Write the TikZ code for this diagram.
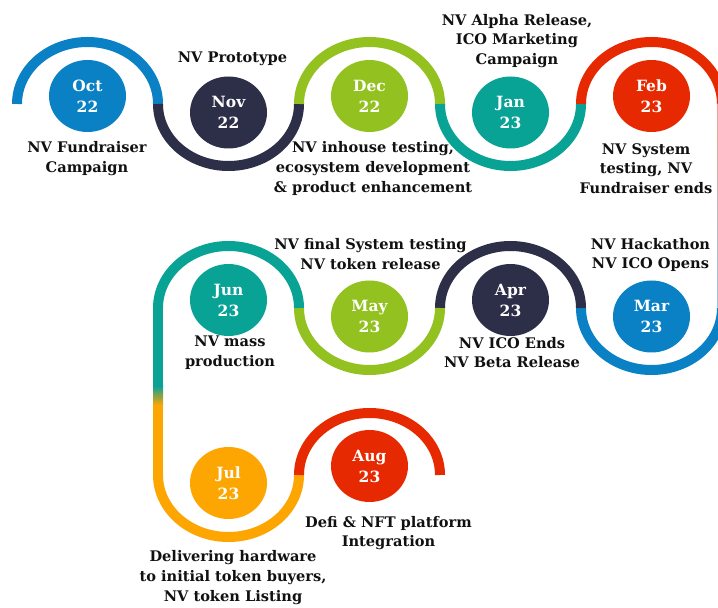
\documentclass[tikz,border=0pt]{standalone}
\usepackage{fontspec}
\setmainfont{DejaVu Serif}
\usetikzlibrary{shapes.geometric}

\definecolor{cblue}{RGB}{10,128,197}
\definecolor{cnavy}{RGB}{45,46,71}
\definecolor{cgreen}{RGB}{146,193,32}
\definecolor{cteal}{RGB}{9,163,150}
\definecolor{cred}{RGB}{230,41,0}
\definecolor{corange}{RGB}{253,165,0}
\definecolor{ink}{RGB}{17,17,17}

\def\trkrx{70.5}
\def\trkry{62}

\begin{document}
\begin{tikzpicture}[x=1pt,y=1pt,
  track/.style={line width=10pt},
  month/.style={ellipse, minimum width=77pt, minimum height=72pt, inner sep=0pt,
    text=white, align=center, font=\bfseries\fontsize{15.5}{21}\selectfont},
  caption/.style={align=center, inner sep=0pt, text=ink,
    font=\bfseries\fontsize{14.6}{19.7}\selectfont},
  up/.style={start angle=180, end angle=0, x radius=\trkrx, y radius=\trkry},
  down/.style={start angle=180, end angle=360, x radius=\trkrx, y radius=\trkry},
  upleft/.style={start angle=0, end angle=180, x radius=\trkrx, y radius=\trkry},
  downleft/.style={start angle=0, end angle=-180, x radius=\trkrx, y radius=\trkry}]
\useasboundingbox (0,0) rectangle (718,608);
\fill[white] (0,0) rectangle (718,608);

% junctions of the winding track
\coordinate (a0) at (17,504);  \coordinate (a1) at (158,504);
\coordinate (a2) at (299,504); \coordinate (a3) at (440,504);
\coordinate (a4) at (581,504); \coordinate (a5) at (722,504);
\coordinate (b0) at (158,300); \coordinate (b1) at (299,300);
\coordinate (b2) at (440,300); \coordinate (b3) at (581,300);
\coordinate (b4) at (722,300);
\coordinate (c0) at (158,133); \coordinate (c1) at (299,133);
\coordinate (c2) at (440,133);

% first row, left to right
\draw[track, cblue]  (a0) arc[up];
\draw[track, cnavy]  (a1) arc[down];
\draw[track, cgreen] (a2) arc[up];
\draw[track, cteal]  (a3) arc[down];
\draw[track, cred]   (a4) arc[up];
% right-hand turn down to the second row
\shade[top color=cred!45, bottom color=cblue!45] (717.6,504) rectangle (727,300);
% second row, right to left
\draw[track, cblue]  (b4) arc[downleft];
\draw[track, cnavy]  (b3) arc[upleft];
\draw[track, cgreen] (b2) arc[downleft];
\draw[track, cteal]  (b1) arc[upleft];
% left-hand drop to the third row
\fill[cteal] (153,300) rectangle (163,222);
\shade[top color=cteal, bottom color=corange] (153,222) rectangle (163,203);
\fill[corange] (153,203) rectangle (163,133);
% third row
\draw[track, corange] (c0) arc[down];
\draw[track, cred]    (c1) arc[up];

% month discs
\node[month, fill=cblue]  (oct) at (87.5,512)   {Oct\\22};
\node[month, fill=cnavy]  (nov) at (228.5,495.5) {Nov\\22};
\node[month, fill=cgreen] (dec) at (369.5,512)  {Dec\\22};
\node[month, fill=cteal]  (jan) at (510.5,495.5) {Jan\\23};
\node[month, fill=cred]   (feb) at (651.5,512)  {Feb\\23};
\node[month, fill=cblue]  (mar) at (651.5,291.5) {Mar\\23};
\node[month, fill=cnavy]  (apr) at (510.5,308)  {Apr\\23};
\node[month, fill=cgreen] (may) at (369.5,291.5) {May\\23};
\node[month, fill=cteal]  (jun) at (228.5,308)  {Jun\\23};
\node[month, fill=corange] (jul) at (228.5,125) {Jul\\23};
\node[month, fill=cred]   (aug) at (369.5,142)  {Aug\\23};

% milestone captions
\node[caption] (t-oct) at (87,449.5) {NV Fundraiser\\Campaign};
\node[caption] (t-nov) at (232.5,549) {NV Prototype};
\node[caption] (t-dec) at (373,439.5) {NV inhouse testing,\\ecosystem development\\\& product enhancement};
\node[caption] (t-jan) at (517,567) {NV Alpha Release,\\ICO Marketing\\Campaign};
\node[caption] (t-feb) at (646,439.5) {NV System\\testing, NV\\Fundraiser ends};
\node[caption] (t-mar) at (650.5,353) {NV Hackathon\\NV ICO Opens};
\node[caption] (t-apr) at (512,255.5) {NV ICO Ends\\NV Beta Release};
\node[caption] (t-may) at (370.5,354) {NV final System testing\\NV token release};
\node[caption] (t-jun) at (230,255) {NV mass\\production};
\node[caption] (t-jul) at (233,30.5) {Delivering hardware\\to initial token buyers,\\NV token Listing};
\node[caption] (t-aug) at (388.5,75) {Defi \& NFT platform\\Integration};
\end{tikzpicture}
\end{document}
